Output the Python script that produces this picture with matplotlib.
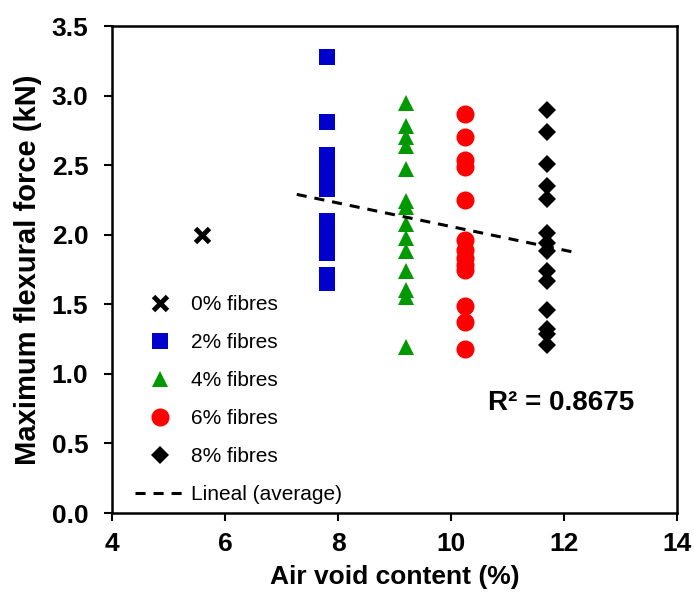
import numpy as np
import matplotlib
matplotlib.use("Agg")
import matplotlib.pyplot as plt

plt.rcParams['font.family'] = ['Liberation Sans', 'DejaVu Sans']

# air void content (%) per group and measured maximum flexural force (kN)
x_f0 = [5.6]
y_f0 = [2.0]

x_f2 = 7.8
y_f2 = [3.28, 2.81, 2.57, 2.53, 2.47, 2.38, 2.33, 2.10, 2.03, 1.96, 1.91, 1.87, 1.71, 1.65]

x_f4 = 9.2
y_f4 = [2.95, 2.78, 2.70, 2.64, 2.47, 2.24, 2.20, 2.08, 1.98, 1.88, 1.74, 1.60, 1.55, 1.19]

x_f6 = 10.25
y_f6 = [2.87, 2.70, 2.54, 2.49, 2.25, 1.96, 1.89, 1.83, 1.78, 1.75, 1.49, 1.37, 1.18]

x_f8 = 11.7
y_f8 = [2.90, 2.74, 2.51, 2.35, 2.26, 2.01, 1.94, 1.88, 1.74, 1.67, 1.46, 1.32, 1.29, 1.21]

trend_x = [7.27, 12.23]
trend_y = [2.29, 1.87]

r2_text = "R\u00b2 = 0.8675"

fig = plt.figure(figsize=(6.94, 5.97), dpi=100)
ax = fig.add_axes([0.1614, 0.1407, 0.8141, 0.8157])

ax.plot(x_f0, y_f0, linestyle='none', marker='x', color='black',
        markersize=10, markeredgewidth=3.5, label='0% fibres', zorder=3)
ax.plot([x_f2] * len(y_f2), y_f2, linestyle='none', marker='s', color='#0000CC',
        markersize=12, markeredgewidth=0, label='2% fibres', zorder=3)
ax.plot([x_f4] * len(y_f4), y_f4, linestyle='none', marker='^', color='#009900',
        markersize=12, markeredgewidth=0, label='4% fibres', zorder=3)
ax.plot([x_f6] * len(y_f6), y_f6, linestyle='none', marker='o', color='#FF0000',
        markersize=13, markeredgewidth=0, label='6% fibres', zorder=3)
ax.plot([x_f8] * len(y_f8), y_f8, linestyle='none', marker='D', color='black',
        markersize=8.7, markeredgewidth=0, label='8% fibres', zorder=3)
ax.plot(trend_x, trend_y, linestyle=(0, (3.3, 2.6)), color='black', linewidth=2.2,
        label='Lineal (average)', zorder=4)

ax.text(11.95, 0.79, r2_text, fontsize=20, fontweight='bold', ha='center', va='center')

ax.set_xlim(4, 14)
ax.set_ylim(0, 3.5)
ax.set_xticks(np.arange(4, 15, 2))
ax.set_yticks(np.arange(0, 3.51, 0.5))
ax.set_yticklabels(["%.1f" % v for v in np.arange(0, 3.51, 0.5)])
ax.tick_params(direction='out', length=6, width=1.5, labelsize=19)
ax.tick_params(axis='y', pad=11)
ax.tick_params(axis='x', pad=8)
for lab in ax.get_xticklabels() + ax.get_yticklabels():
    lab.set_fontweight('bold')
for sp in ax.spines.values():
    sp.set_linewidth(1.8)

ax.set_xlabel("Air void content (%)", fontsize=19, fontweight='bold', labelpad=6)
ax.set_ylabel("Maximum flexural force (kN)", fontsize=21, fontweight='bold', labelpad=7)

leg = ax.legend(loc='lower left', bbox_to_anchor=(0.034, 0.01), fontsize=15,
                frameon=True, facecolor='white', edgecolor='none', framealpha=1,
                handlelength=2.4, handletextpad=0.25, labelspacing=0.91,
                borderpad=0.2, borderaxespad=0, numpoints=1)
leg.set_zorder(5)

fig.savefig("out.png", dpi=100)
